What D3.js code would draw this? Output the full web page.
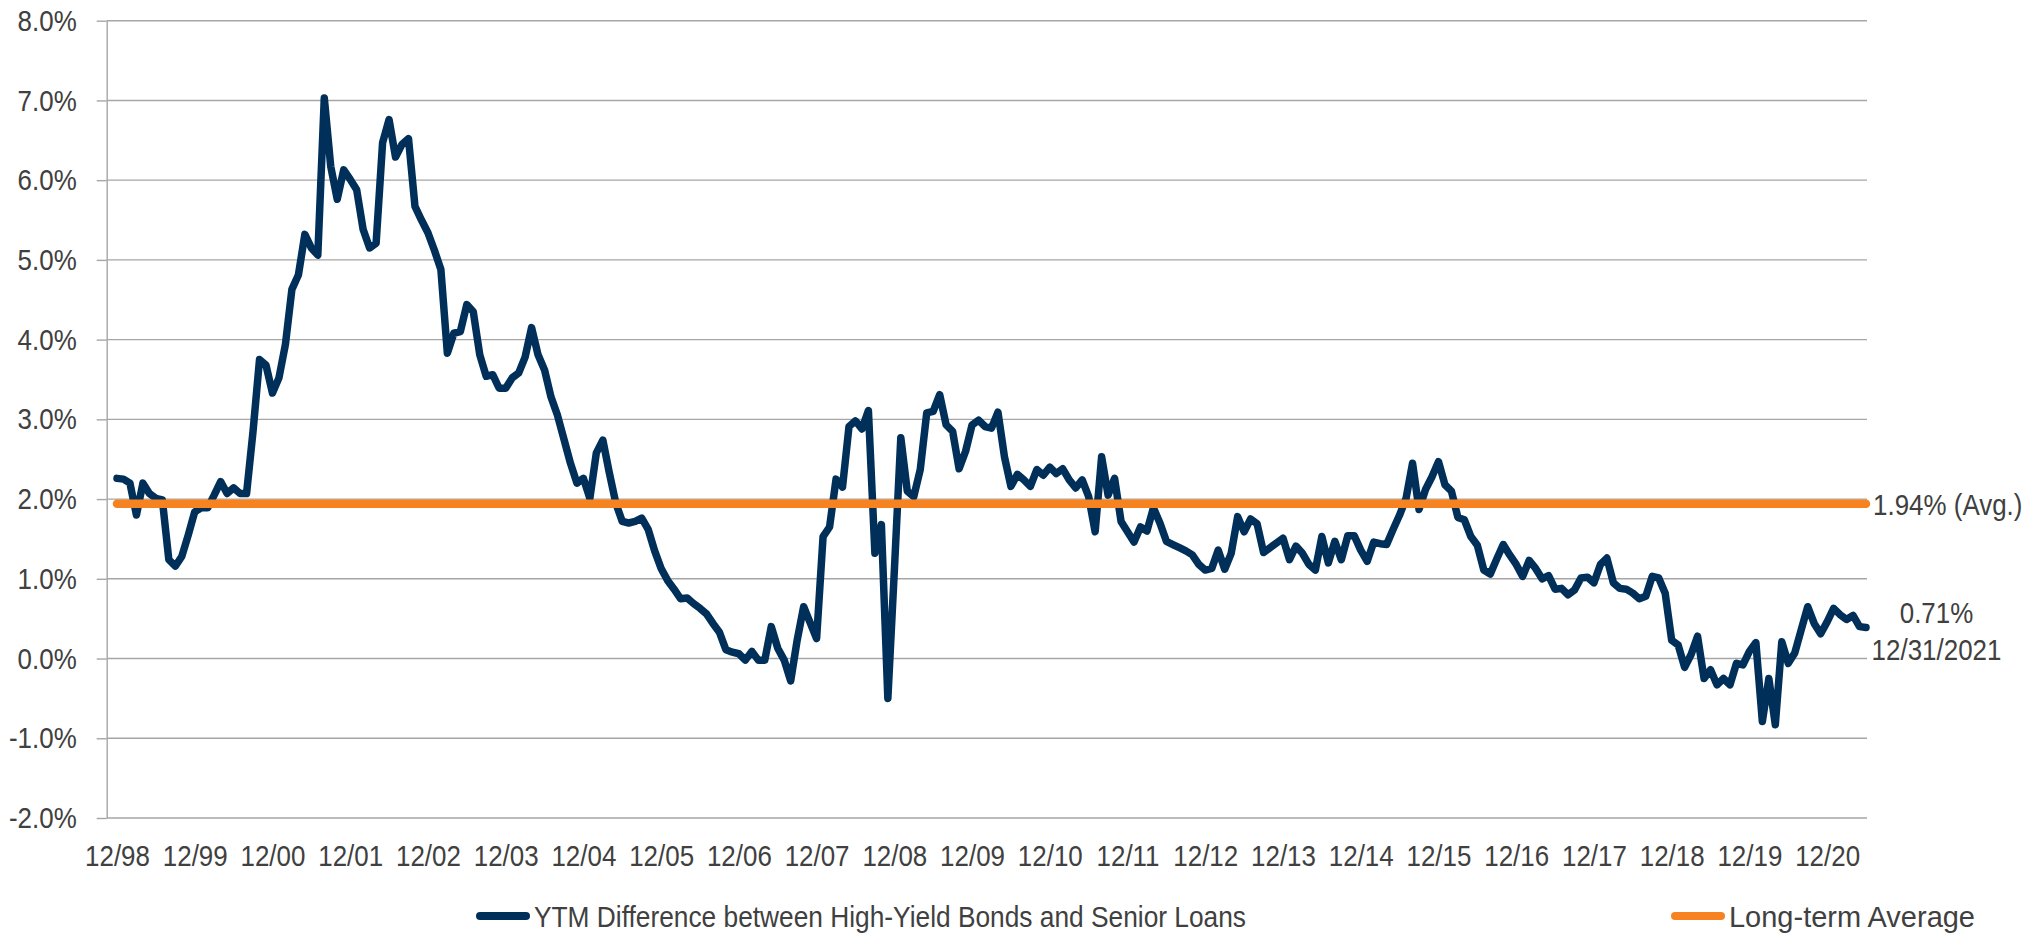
<!DOCTYPE html>
<html>
<head>
<meta charset="utf-8">
<script src="https://cdn.jsdelivr.net/npm/d3@7"></script>
<style>
  html, body { margin: 0; padding: 0; background: #ffffff; }
  svg text { font-family: "Liberation Sans", Arial, Helvetica, sans-serif; font-size: 30px; fill: #404040; }
</style>
</head>
<body>
<svg id="chart" width="2026" height="936"></svg>
<script>
// Monthly yield-to-maturity spread (%), high-yield bonds minus senior loans, 12/1998 onward
const spread = [
  2.26, 2.25, 2.20, 1.80, 2.20, 2.07, 2.01, 1.99, 1.24, 1.16,
  1.28, 1.55, 1.84, 1.89, 1.89, 2.05, 2.22, 2.07, 2.14, 2.07,
  2.07, 2.85, 3.75, 3.68, 3.33, 3.52, 3.94, 4.63, 4.81, 5.32,
  5.15, 5.06, 7.03, 6.17, 5.76, 6.13, 6.01, 5.88, 5.38, 5.15,
  5.21, 6.47, 6.76, 6.29, 6.45, 6.52, 5.67, 5.50, 5.34, 5.12,
  4.88, 3.83, 4.08, 4.10, 4.44, 4.35, 3.81, 3.54, 3.56, 3.39,
  3.39, 3.52, 3.58, 3.78, 4.15, 3.81, 3.62, 3.28, 3.05, 2.75,
  2.45, 2.20, 2.26, 2.01, 2.58, 2.74, 2.33, 1.95, 1.72, 1.70,
  1.72, 1.76, 1.62, 1.35, 1.13, 0.98, 0.87, 0.75, 0.76, 0.69,
  0.63, 0.56, 0.44, 0.33, 0.11, 0.08, 0.06, -0.02, 0.09, -0.02,
  -0.02, 0.40, 0.13, -0.02, -0.28, 0.23, 0.65, 0.45, 0.25, 1.53,
  1.65, 2.25, 2.15, 2.91, 2.98, 2.88, 3.11, 1.32, 1.68, -0.50,
  1.10, 2.77, 2.10, 2.03, 2.37, 3.08, 3.10, 3.31, 2.93, 2.85,
  2.38, 2.60, 2.93, 2.99, 2.91, 2.89, 3.09, 2.53, 2.16, 2.31,
  2.24, 2.16, 2.37, 2.30, 2.40, 2.32, 2.38, 2.24, 2.14, 2.24,
  2.03, 1.59, 2.53, 2.05, 2.26, 1.72, 1.59, 1.46, 1.65, 1.60,
  1.89, 1.70, 1.47, 1.43, 1.39, 1.35, 1.30, 1.18, 1.11, 1.13,
  1.36, 1.12, 1.32, 1.78, 1.59, 1.75, 1.69, 1.33, 1.39, 1.45,
  1.51, 1.24, 1.41, 1.32, 1.18, 1.11, 1.53, 1.20, 1.47, 1.24,
  1.54, 1.54, 1.36, 1.22, 1.46, 1.44, 1.43, 1.62, 1.80, 2.01,
  2.45, 1.87, 2.12, 2.28, 2.47, 2.18, 2.10, 1.77, 1.74, 1.53,
  1.42, 1.11, 1.06, 1.25, 1.43, 1.30, 1.18, 1.03, 1.23, 1.13,
  1.00, 1.04, 0.87, 0.88, 0.80, 0.86, 1.01, 1.02, 0.95, 1.18,
  1.26, 0.95, 0.88, 0.87, 0.82, 0.75, 0.78, 1.03, 1.01, 0.82,
  0.23, 0.17, -0.11, 0.05, 0.28, -0.25, -0.14, -0.33, -0.25, -0.33,
  -0.06, -0.08, 0.09, 0.20, -0.79, -0.25, -0.83, 0.21, -0.06, 0.07,
  0.36, 0.65, 0.44, 0.31, 0.46, 0.63, 0.55, 0.49, 0.54, 0.40,
  0.39
];

const longTermAverage = 1.94;

// Category labels, one every twelve months
const yearLabels = ["12/98", "12/99", "12/00", "12/01", "12/02", "12/03", "12/04", "12/05",
  "12/06", "12/07", "12/08", "12/09", "12/10", "12/11", "12/12", "12/13", "12/14", "12/15",
  "12/16", "12/17", "12/18", "12/19", "12/20"];

const yTicks = [-2, -1, 0, 1, 2, 3, 4, 5, 6, 7, 8];

const seriesNames = ["YTM Difference between High-Yield Bonds and Senior Loans", "Long-term Average"];
const avgLabel = "1.94% (Avg.)";
const endLabel = ["0.71%", "12/31/2021"];

const NAVY = "#00305a";
const ORANGE = "#f68220";
const GRID = "#a6a6a6";
const SQUEEZE = 0.865;   // narrow lettering

const svg = d3.select("#chart");

const axisX = 106.7, plotRight = 1867, plotTop = 20.7, plotBottom = 818;

const x = d3.scaleLinear().domain([0, spread.length - 1]).range([117, 1866]);
const y = d3.scaleLinear().domain([-2, 8]).range([plotBottom, plotTop]);

// horizontal gridlines
svg.append("g")
  .selectAll("line")
  .data(yTicks)
  .join("line")
  .attr("x1", axisX).attr("x2", plotRight)
  .attr("y1", d => y(d)).attr("y2", d => y(d))
  .attr("stroke", GRID).attr("stroke-width", 1.4);

// y axis
const yAxis = svg.append("g")
  .attr("transform", `translate(${axisX},0)`)
  .call(d3.axisLeft(y).tickValues(yTicks).tickSize(10).tickSizeOuter(0).tickPadding(20)
    .tickFormat(d => d.toFixed(1) + "%"));
yAxis.select(".domain").attr("stroke", GRID).attr("stroke-width", 1.4);
yAxis.selectAll(".tick line").attr("stroke", GRID).attr("stroke-width", 1.4);
yAxis.selectAll(".tick text")
  .attr("fill", "#404040").style("font-size", "30px")
  .attr("x", -30 / SQUEEZE)
  .attr("transform", `scale(${SQUEEZE},1)`);

// x axis labels
const xAxis = svg.append("g")
  .attr("transform", `translate(0,${plotBottom})`)
  .call(d3.axisBottom(x).tickValues(yearLabels.map((_, i) => i * 12)).tickSize(0).tickPadding(27)
    .tickFormat((d, i) => yearLabels[i]));
xAxis.select(".domain").remove();
xAxis.selectAll(".tick text")
  .attr("fill", "#404040").style("font-size", "30px")
  .attr("transform", `scale(${SQUEEZE},1)`)
  .attr("x", 0);

// spread line
const line = d3.line().x((d, i) => x(i)).y(d => y(d));
svg.append("path")
  .datum(spread)
  .attr("d", line)
  .attr("fill", "none")
  .attr("stroke", NAVY)
  .attr("stroke-width", 7.5)
  .attr("stroke-linejoin", "round")
  .attr("stroke-linecap", "round");

// long-term average line
svg.append("line")
  .attr("x1", x(0)).attr("x2", x(spread.length - 1))
  .attr("y1", y(longTermAverage)).attr("y2", y(longTermAverage))
  .attr("stroke", ORANGE).attr("stroke-width", 8.5)
  .attr("stroke-linecap", "round");

function squeezedText(g, str, px, py, anchor, color) {
  return g.append("text")
    .attr("transform", `translate(${px},${py}) scale(${SQUEEZE},1)`)
    .attr("text-anchor", anchor)
    .attr("fill", color)
    .text(str);
}

// average annotation
squeezedText(svg, avgLabel, 1873, y(longTermAverage) + 11, "start", ORANGE);

// last-value annotation
const lastY = y(spread[spread.length - 1]);
squeezedText(svg, endLabel[0], 1936.5, lastY - 4, "middle", "#404040");
squeezedText(svg, endLabel[1], 1936.5, lastY + 33, "middle", "#404040");

// legend
const legendY = 916;
const legend = svg.append("g");
const legendItems = [
  { x1: 476, x2: 530, color: NAVY, name: seriesNames[0], tx: 534, width: 712 },
  { x1: 1671, x2: 1725, color: ORANGE, name: seriesNames[1], tx: 1729, width: 246 }
];
legendItems.forEach(it => {
  legend.append("line")
    .attr("x1", it.x1 + 4).attr("x2", it.x2 - 4)
    .attr("y1", legendY).attr("y2", legendY)
    .attr("stroke", it.color).attr("stroke-width", 8).attr("stroke-linecap", "round");
  legend.append("text")
    .attr("x", it.tx).attr("y", legendY + 11)
    .attr("textLength", it.width)
    .attr("lengthAdjust", "spacingAndGlyphs")
    .attr("fill", "#404040")
    .text(it.name);
});
</script>
</body>
</html>
